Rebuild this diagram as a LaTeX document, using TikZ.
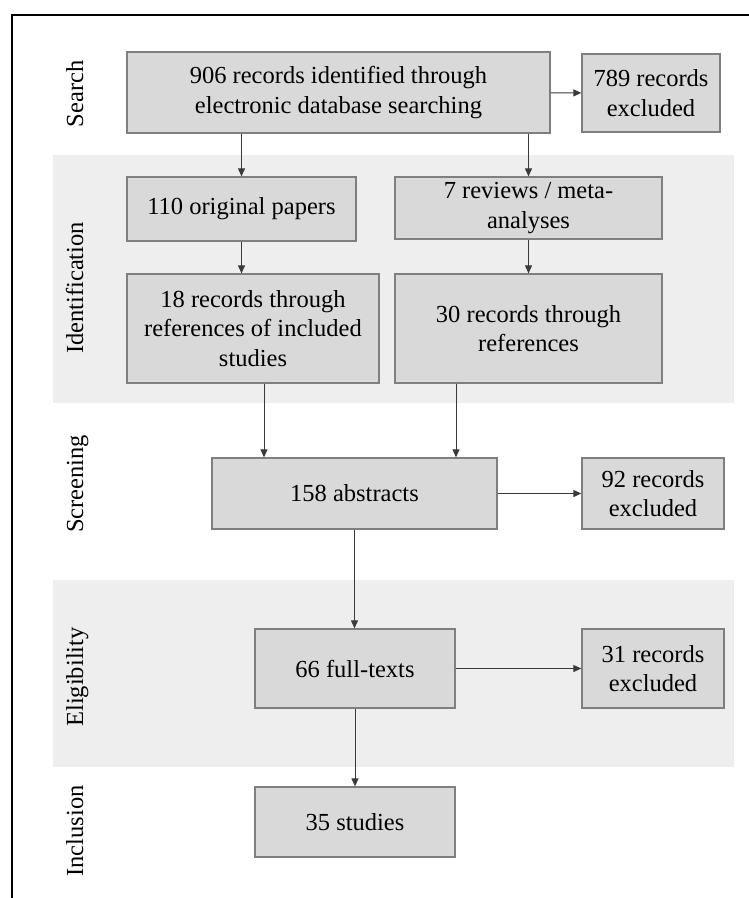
\documentclass[tikz,border=0pt]{standalone}
\usepackage{fontspec}
\setmainfont{Liberation Serif}
\newfontfamily\flowfont{Liberation Serif}
\usepackage{tikz}
\usetikzlibrary{arrows.meta,calc}
\definecolor{boxgray}{HTML}{D9D9D9}
\definecolor{edgegray}{HTML}{7F7F7F}
\definecolor{bandgray}{HTML}{EEEEEE}
\definecolor{linegray}{HTML}{3A3A3A}

\begin{document}
\begin{tikzpicture}[x=1pt, y=-1pt,
    stage/.style={draw=edgegray, fill=boxgray, line width=1.3pt, align=center,
      inner sep=0pt, font=\flowfont\fontsize{24.5}{29.5}\selectfont},
    phase/.style={rotate=90, anchor=base, font=\flowfont\fontsize{24.5}{29.5}\selectfont},
    flow/.style={draw=linegray, line width=1pt, -{Triangle[length=8pt, width=7pt]}}]
  \useasboundingbox (0,0) rectangle (749,898);
  \clip (0,0) rectangle (749,898);
  \fill[white] (0,0) rectangle (749,898);
  \draw[line width=2pt] (12,15) rectangle (770,920);
  % phase bands
  \fill[bandgray] (53,155) rectangle (734,403);
  \fill[bandgray] (53,580) rectangle (734,767);
  % phase labels
  \node[phase] (lsearch) at (83,94) {Search};
  \node[phase] (lident) at (83,288) {Identification};
  \node[phase] (lscreen) at (83,484) {Screening};
  \node[phase] (lelig) at (83,677) {Eligibility};
  \node[phase] (lincl) at (83,831) {Inclusion};
  % boxes
  \node[stage, minimum width=423pt, minimum height=81pt] (search) at (338.5,92.5)
    {906 records identified through\\electronic database searching};
  \node[stage, minimum width=138pt, minimum height=78pt] (excl1) at (651,93)
    {789 records\\excluded};
  \node[stage, minimum width=229pt, minimum height=64pt] (orig) at (241.5,209)
    {110 original papers};
  \node[stage, minimum width=267pt, minimum height=62pt] (rev) at (528.5,208)
    {7 reviews / meta-\\analyses};
  \node[stage, minimum width=252pt, minimum height=109pt] (refinc) at (253,328.5)
    {18 records through\\references of included\\studies};
  \node[stage, minimum width=267pt, minimum height=109pt] (refrev) at (528.5,328.5)
    {30 records through\\references};
  \node[stage, minimum width=285pt, minimum height=71pt] (abs) at (354.5,493.5)
    {158 abstracts};
  \node[stage, minimum width=142pt, minimum height=71pt] (excl2) at (653,493.5)
    {92 records\\excluded};
  \node[stage, minimum width=200pt, minimum height=79pt] (full) at (355,668.5)
    {66 full-texts};
  \node[stage, minimum width=142pt, minimum height=79pt] (excl3) at (653,668.5)
    {31 records\\excluded};
  \node[stage, minimum width=200pt, minimum height=70pt] (incl) at (355,822)
    {35 studies};
  % arrows
  \draw[flow] (search) -- (excl1);
  \draw[flow] (orig.north |- search.south) -- (orig.north);
  \draw[flow] (rev.north |- search.south) -- (rev.north);
  \draw[flow] (orig.south) -- (orig.south |- refinc.north);
  \draw[flow] (rev.south) -- (refrev.north);
  \draw[flow] ([xshift=11pt]refinc.south) -- ([xshift=11pt]refinc.south |- abs.north);
  \draw[flow] ([xshift=-72.5pt]refrev.south) -- ([xshift=-72.5pt]refrev.south |- abs.north);
  \draw[flow] (abs) -- (excl2);
  \draw[flow] (abs.south) -- (abs.south |- full.north);
  \draw[flow] (full) -- (excl3);
  \draw[flow] (full) -- (incl);
\end{tikzpicture}
\end{document}
